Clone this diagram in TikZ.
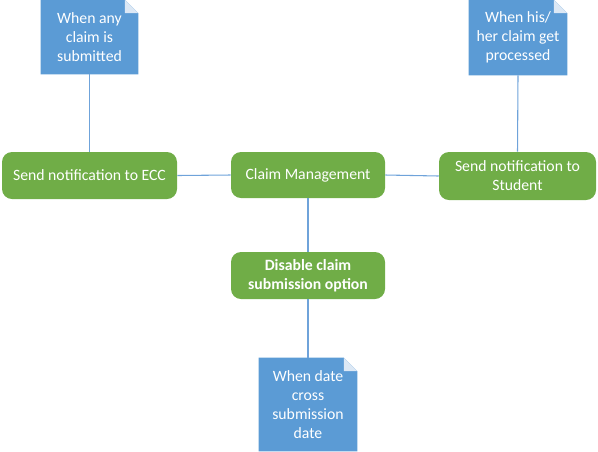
\documentclass[tikz,border=0pt]{standalone}
\usepackage{fontspec}
\setmainfont{Carlito}
\usetikzlibrary{backgrounds}
\definecolor{notefill}{HTML}{5B9BD5}
\definecolor{boxfill}{HTML}{70AD47}
\definecolor{linkcol}{HTML}{6FA3DA}
\definecolor{foldcol}{HTML}{DCE8F5}
\tikzset{
  x=0.75pt, y=-0.75pt,
  notebox/.style={text=white, align=center, inner sep=0pt, font=\fontsize{11.8}{14.25}\selectfont},
  greenbox/.style={fill=boxfill, draw=none, rounded corners=7.5pt, text=white, align=center, inner sep=0pt, font=\fontsize{11.8}{14.25}\selectfont},
  link/.style={draw=linkcol, line width=0.8pt},
}
\newcommand{\dognote}[1]{%
  \fill[notefill] (#1.south west) -- (#1.north west) -- ([xshift=-10pt]#1.north east) -- ([yshift=-10pt]#1.north east) -- (#1.south east) -- cycle;
  \fill[foldcol] ([xshift=-10pt]#1.north east) -- ([yshift=-10pt]#1.north east) -- ([xshift=-10pt,yshift=-10pt]#1.north east) -- cycle;
}
\begin{document}
\begin{tikzpicture}
\useasboundingbox (0,0) rectangle (598,451);
\node[notebox, minimum width=97*0.75pt, minimum height=74*0.75pt] (n1) at (89.5,37) {When any\\claim is\\submitted};
\node[notebox, minimum width=98*0.75pt, minimum height=75*0.75pt] (n2) at (518,37.5) {When his/\\her claim get\\processed};
\node[notebox, minimum width=98*0.75pt, minimum height=93*0.75pt] (n3) at (308,404.5) {When date\\cross\\submission\\date};
\node[greenbox, minimum width=175*0.75pt, minimum height=47*0.75pt] (ecc) at (89.5,175.5) {Send notification to ECC};
\node[greenbox, minimum width=154*0.75pt, minimum height=46*0.75pt] (cm) at (308,175) {Claim Management};
\node[greenbox, minimum width=157*0.75pt, minimum height=48*0.75pt] (st) at (517.5,176) {Send notification to\\Student};
\node[greenbox, minimum width=154*0.75pt, minimum height=47*0.75pt, font=\fontsize{11.8}{14.25}\selectfont\bfseries] (dis) at (308,275.5) {Disable claim\\submission option};
\begin{scope}[on background layer]
\dognote{n1}
\dognote{n2}
\dognote{n3}
\end{scope}
\draw[link] (n1.south) -- (ecc.north);
\draw[link] (n2.south) -- (st.north);
\draw[link] (ecc.east) -- (cm.west);
\draw[link] (cm.east) -- (st.west);
\draw[link] (cm.south) -- (dis.north);
\draw[link] (dis.south) -- (n3.north);
\end{tikzpicture}
\end{document}
